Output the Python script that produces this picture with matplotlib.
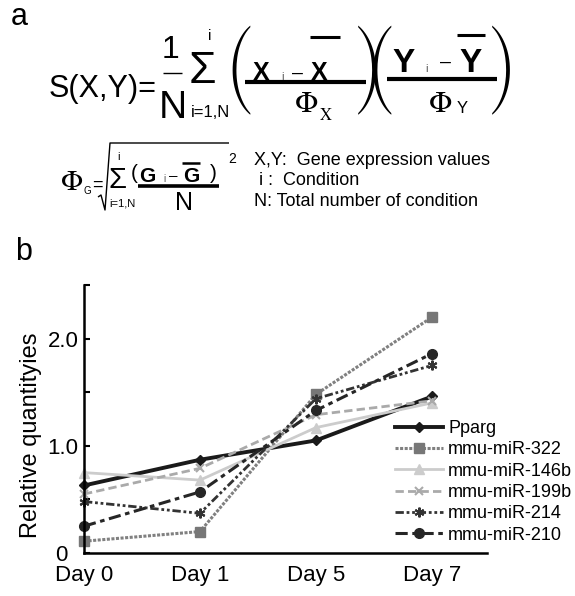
import matplotlib
matplotlib.use('Agg')
import matplotlib.pyplot as plt
from matplotlib.lines import Line2D
from matplotlib.transforms import blended_transform_factory

# data
days = ['Day 0', 'Day 1', 'Day 5', 'Day 7']
pparg = [0.63, 0.87, 1.05, 1.46]
mir322 = [0.11, 0.20, 1.48, 2.20]
mir146b = [0.75, 0.68, 1.17, 1.40]
mir199b = [0.55, 0.79, 1.29, 1.42]
mir214 = [0.48, 0.37, 1.44, 1.75]
mir210 = [0.25, 0.57, 1.33, 1.86]

W, H = 575, 596
SANS = 'Liberation Sans'
SERIF = 'STIXGeneral'
BIG = 'STIXSizeFourSym'

fig = plt.figure(figsize=(W / 100, H / 100), dpi=100)


def fx(x):
    return x / W


def fy(y):
    return 1 - y / H


def put(x, y, s, size, ha='center', family=SANS, **kw):
    fig.text(fx(x), fy(y), s, fontsize=size, ha=ha, va='baseline',
             family=family, **kw)


def rule(xs, ys, lw):
    fig.add_artist(Line2D([fx(v) for v in xs], [fy(v) for v in ys],
                          transform=fig.transFigure, color='k', lw=lw,
                          solid_capstyle='butt'))


# ---- panel a: formula ----
put(11, 25, 'a', 22, ha='left')
put(49, 97, 'S(X,Y)=', 22, ha='left')

put(171, 58, '1', 23)
rule([163, 182], [73, 73], 1.0)
put(173, 118, 'N', 28)
put(202, 83, 'Σ', 32)
put(210, 40, 'i', 11)
put(210, 117, 'i=1,N', 12)

put(240, 100, '(', 21, family=BIG)
put(261, 80, 'X', 18, weight='bold')
put(282, 80, 'i', 8, color='#555555')
put(297, 78, '–', 14)
put(319, 80, 'X', 18, weight='bold')
rule([310, 340], [37, 37], 2.2)
rule([245, 366], [82, 82], 3.0)
put(307, 112, 'Φ', 22, family=SERIF)
put(326, 120, 'X', 12, family=SERIF)

put(368, 100, ')', 21, family=BIG)
put(381, 100, '(', 21, family=BIG)
put(404, 72, 'Y', 24, weight='bold')
put(426, 72, 'i', 8, color='#555555')
put(445, 67, '–', 14)
put(471, 72, 'Y', 24, weight='bold')
rule([457, 485], [35, 35], 2.2)
rule([387, 497], [79, 79], 3.0)
put(441, 112, 'Φ', 22, family=SERIF)
put(462, 113, 'Y', 12)
put(502, 100, ')', 21, family=BIG)

# second line
put(72, 190, 'Φ', 21, family=SERIF)
put(87, 194, 'G', 7)
put(97, 190, '=', 13)
rule([98, 101, 105, 110, 229], [197, 195, 210, 143, 143], 1.0)
put(118, 188, 'Σ', 21)
put(118, 160, 'i', 8)
put(122, 206, 'i=1,N', 8)
put(134, 179, '(', 15)
put(147, 182, 'G', 15, weight='bold')
put(164, 182, 'i', 7, color='#555555')
put(173, 180, '–', 11)
put(191, 182, 'G', 15, weight='bold')
rule([182, 200], [163, 163], 1.8)
put(213, 179, ')', 15)
rule([138, 219], [186, 186], 2.6)
put(184, 210, 'N', 18)
put(228, 163, '2', 10, ha='left')

put(254, 165, 'X,Y:  Gene expression values', 13, ha='left')
put(259, 185, 'i :  Condition', 13, ha='left')
put(254, 206, 'N: Total number of condition', 13, ha='left')

# ---- panel b: chart ----
put(15, 260, 'b', 22, ha='left')

ax = fig.add_axes([84 / W, 1 - 553 / H, 403 / W, 268 / H])
x = range(len(days))
common = dict(clip_on=False)
ax.plot(x, pparg, color='#1a1a1a', lw=2.8, marker='D', ms=5,
        label='Pparg', **common)
ax.plot(x, mir322, color='#808080', lw=2.2, ls=(0, (1, 0.5)), marker='s',
        ms=7, mfc='#777777', mec='#777777', label='mmu-miR-322', **common)
ax.plot(x, mir146b, color='#cccccc', lw=2.0, marker='^', ms=7,
        label='mmu-miR-146b', **common)
ax.plot(x, mir199b, color='#aaaaaa', lw=2.0, ls=(0, (3, 1.5)), marker='x',
        ms=6, mew=1.5, label='mmu-miR-199b', **common)
ax.plot(x, mir214, color='#333333', lw=2.0, ls=(0, (3, 1, 1, 1, 1, 1)),
        marker=(6, 2, 0), ms=7, mew=1.5, label='mmu-miR-214', **common)
ax.plot(x, mir210, color='#262626', lw=2.2, ls=(0, (4, 1.5, 1.5, 1.5)),
        marker='o', ms=7, label='mmu-miR-210', **common)

ax.set_xlim(0, 3.474)
ax.set_ylim(0, 2.5)
ax.set_xticks(list(x))
ax.set_xticklabels(days, fontsize=16, family=SANS)
ax.tick_params(axis='x', length=0, pad=9)
ax.set_yticks([0, 0.5, 1.0, 1.5, 2.0, 2.5])
ax.set_yticklabels(['', '', '1.0', '', '2.0', ''], fontsize=16, family=SANS)
ax.tick_params(axis='y', direction='in', length=4, width=1.5, pad=4)
trans = blended_transform_factory(ax.transAxes, ax.transData)
ax.text(-0.04, -0.02, '0', transform=trans, ha='right', va='center',
        fontsize=16, family=SANS)
for s in ['top', 'right']:
    ax.spines[s].set_visible(False)
for s in ['left', 'bottom']:
    ax.spines[s].set_linewidth(1.8)
ax.set_ylabel('Relative quantityies', fontsize=17, family=SANS)
ax.yaxis.set_label_coords(-0.105, 0.44)

ax.legend(loc='upper left', bbox_to_anchor=(fx(395), fy(420)),
          bbox_transform=fig.transFigure, frameon=False, borderpad=0,
          borderaxespad=0, handlelength=2.67, handletextpad=0.28,
          labelspacing=0.24, prop={'family': SANS, 'size': 13})

fig.savefig('out.png', dpi=100)
